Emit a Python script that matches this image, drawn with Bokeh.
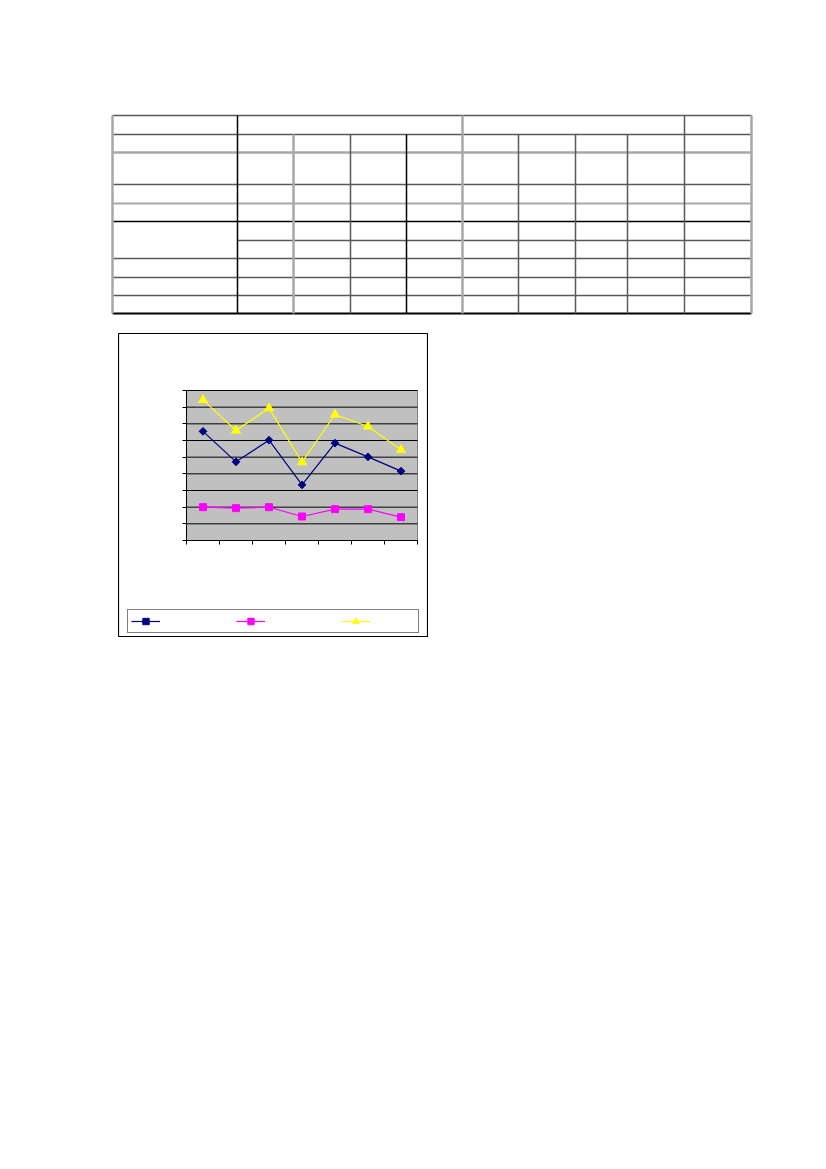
import numpy as np
from bokeh.plotting import figure
from bokeh.layouts import column, row
from bokeh.models import Spacer, Range1d, FixedTicker, Legend, LegendItem, LinearAxis
from bokeh.embed import file_html
from bokeh.resources import INLINE

# ---- chart data ----
categories = ["1", "2", "3", "4", "5", "6", "7"]
series_navy = [6.55, 4.72, 6.02, 3.34, 5.84, 5.02, 4.16]
series_magenta = [2.00, 1.94, 2.00, 1.44, 1.88, 1.88, 1.40]
series_yellow = [8.44, 6.60, 7.94, 4.70, 7.56, 6.84, 5.44]
y_ticks = [0, 1, 2, 3, 4, 5, 6, 7, 8, 9]
x_ticks = [0, 1, 2, 3, 4, 5, 6, 7]

# ---- empty table grid above the chart (page layout, no data) ----
col_edges = [112, 237, 293, 350, 406, 462, 518, 575, 627, 684, 751]
row_edges = [115, 134, 152, 184, 203, 221, 240, 258, 277, 295, 313]

tab = figure(width=650, height=206, x_range=Range1d(108, 758), y_range=Range1d(317, 111),
             output_backend="svg", toolbar_location=None, min_border=0,
             x_axis_location=None, y_axis_location=None, outline_line_color=None)
tab.grid.visible = False

DG, LG, BK = "#5a5a5a", "#a8a8a8", "#000000"
hx0, hx1, hy, hc, hw = [], [], [], [], []
h_style = [(DG, 1.5), (DG, 1.5), (LG, 2.5), (DG, 1.5), (LG, 2), (BK, 1.5),
           (DG, 1.5), (DG, 1.5), (DG, 1.5), (DG, 1.5), (BK, 2)]
for i, y in enumerate(row_edges):
    start = col_edges[1] if i == 6 else col_edges[0]
    hx0.append(start); hx1.append(col_edges[-1]); hy.append(y)
    hc.append(h_style[i][0]); hw.append(h_style[i][1])
tab.segment(x0=hx0, y0=hy, x1=hx1, y1=hy, line_color=hc, line_width=hw)

v_style = [(LG, 2.5), (BK, 1.5), (LG, 2.5), (DG, 1.5), (BK, 1.5), (LG, 2.5),
           (DG, 1.5), (DG, 1.5), (DG, 1.5), (DG, 1.5), (LG, 2.5)]
full_height = {0, 1, 5, 9, 10}
vx, vy0, vy1, vc, vw = [], [], [], [], []
for j, x in enumerate(col_edges):
    top = row_edges[0] if j in full_height else row_edges[1]
    vx.append(x); vy0.append(top); vy1.append(row_edges[-1])
    vc.append(v_style[j][0]); vw.append(v_style[j][1])
tab.segment(x0=vx, y0=vy0, x1=vx, y1=vy1, line_color=vc, line_width=vw)

# ---- line chart: frame is the whole chart box; plot area is [0,7] x [0,9] ----
n = len(categories)
y_max = y_ticks[-1]
box_w, box_h = 310, 304
pa_left, pa_right, pa_top, pa_bottom = 68, 11, 57, 97   # plot-area offsets inside the box (px)
ux = (box_w - pa_left - pa_right) / n
uy = (box_h - pa_top - pa_bottom) / y_max
x_range = Range1d(-pa_left / ux, n + pa_right / ux)
y_range = Range1d(-pa_bottom / uy, y_max + pa_top / uy)

ch = figure(width=box_w, height=box_h, x_range=x_range, y_range=y_range,
            output_backend="svg", toolbar_location=None, min_border=0,
            x_axis_location=None, y_axis_location=None,
            background_fill_color="white", border_fill_color="white",
            outline_line_color="black", outline_line_width=1.2)
ch.grid.visible = False

# plot area background + border
ch.quad(left=0, right=n, bottom=0, top=y_max, fill_color="#C0C0C0",
        line_color="#808080", line_width=1)
# horizontal gridlines at the y ticks
ch.segment(x0=[0] * len(y_ticks), x1=[n] * len(y_ticks), y0=y_ticks, y1=y_ticks,
           line_color="black", line_width=1)

yax = LinearAxis(fixed_location=0, bounds=(0, y_max), ticker=FixedTicker(ticks=y_ticks))
xax = LinearAxis(fixed_location=0, bounds=(0, n), ticker=FixedTicker(ticks=x_ticks))
for ax in (xax, yax):
    ax.major_label_text_color = None
    ax.major_label_text_font_size = "1px"
    ax.minor_tick_line_color = None
    ax.major_tick_in = 0
    ax.major_tick_out = 4
    ax.axis_line_color = "black"
    ax.major_tick_line_color = "black"
ch.add_layout(yax, "left")
ch.add_layout(xax, "below")

xs = np.arange(n) + 0.5
NAVY, MAG, YEL = "#000080", "#FF00FF", "#FFFF00"
l1 = ch.line(xs, series_navy, line_color=NAVY, line_width=1.2)
s1 = ch.scatter(xs, series_navy, marker="square", angle=np.pi / 4, size=5.5, color=NAVY)
l2 = ch.line(xs, series_magenta, line_color=MAG, line_width=1.2)
s2 = ch.scatter(xs, series_magenta, marker="square", size=7, color=MAG)
l3 = ch.line(xs, series_yellow, line_color=YEL, line_width=1.2)
s3 = ch.scatter(xs, series_yellow, marker="triangle", size=9, color=YEL)

legend = Legend(items=[LegendItem(label="", renderers=[l1, s1]),
                       LegendItem(label="", renderers=[l2, s2]),
                       LegendItem(label="", renderers=[l3, s3])],
                orientation="horizontal", location=(9, 4),
                glyph_width=29, glyph_height=16, label_width=45, label_height=16,
                label_standoff=0, spacing=31, padding=3, margin=0,
                border_line_color="black", border_line_width=1,
                background_fill_color="white", background_fill_alpha=1.0)
ch.add_layout(legend)

layout = column(Spacer(height=111),
                row(Spacer(width=108), tab),
                Spacer(height=16),
                row(Spacer(width=118), ch))

open("out.html", "w").write(file_html(layout, INLINE))
